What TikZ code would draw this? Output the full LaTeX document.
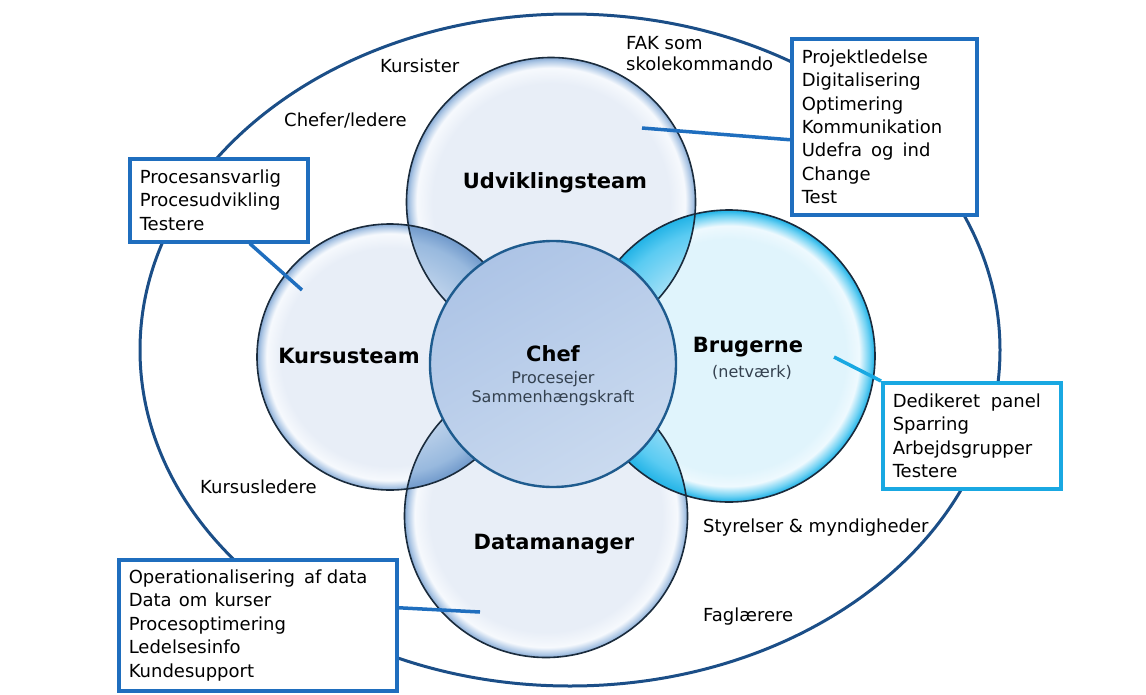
\documentclass[tikz,border=0pt]{standalone}
\usepackage{fontspec}
\setmainfont{DejaVu Sans}
\usetikzlibrary{calc}
\definecolor{ellblue}{HTML}{1B4E87}
\definecolor{boxblue}{HTML}{1F6EBE}
\definecolor{boxcyan}{HTML}{19A8E2}
\definecolor{ringdark}{HTML}{1A2B3C}
\definecolor{chefline}{HTML}{1E5B8E}
\definecolor{subgray}{HTML}{34414F}
\definecolor{bubA}{HTML}{E8EEF7}
\definecolor{bubB}{HTML}{F6F9FD}
\definecolor{bubC}{HTML}{B0C9E6}
\definecolor{bubD}{HTML}{86A9D3}
\definecolor{cyA}{HTML}{E0F4FC}
\definecolor{cyB}{HTML}{EEF9FE}
\definecolor{cyC}{HTML}{6ED1F3}
\definecolor{cyD}{HTML}{1BB0E6}
\definecolor{lbA}{HTML}{D0DFF0}
\definecolor{lbB}{HTML}{BDD2EB}
\definecolor{lbC}{HTML}{98B9DE}
\definecolor{lbD}{HTML}{7099CB}
\definecolor{lcA}{HTML}{C4ECFA}
\definecolor{lcB}{HTML}{A6E1F7}
\definecolor{lcC}{HTML}{5ACBF2}
\definecolor{lcD}{HTML}{22B3E6}
\definecolor{chefA}{HTML}{ADC4E6}
\definecolor{chefB}{HTML}{CADAEF}
\pgfdeclareradialshading{bubble}{\pgfpoint{0bp}{0bp}}{color(0bp)=(bubA); color(20.5bp)=(bubA); color(23.2bp)=(bubB); color(24.4bp)=(bubC); color(25bp)=(bubD); color(50bp)=(bubD)}
\pgfdeclareradialshading{bubblecyan}{\pgfpoint{0bp}{0bp}}{color(0bp)=(cyA); color(20bp)=(cyA); color(22.3bp)=(cyB); color(24bp)=(cyC); color(25bp)=(cyD); color(50bp)=(cyD)}
\pgfdeclareradialshading{lensblue}{\pgfpoint{0bp}{0bp}}{color(0bp)=(lbA); color(15bp)=(lbB); color(22bp)=(lbC); color(25bp)=(lbD); color(50bp)=(lbD)}
\pgfdeclareradialshading{lenscyan}{\pgfpoint{0bp}{0bp}}{color(0bp)=(lcA); color(15bp)=(lcB); color(22bp)=(lcC); color(25bp)=(lcD); color(50bp)=(lcD)}
\begin{document}
\begin{tikzpicture}[x=1pt,y=-1pt,
  plain/.style={font=\fontsize{18}{23.4}\selectfont, inner sep=0pt, anchor=base west},
  title/.style={font=\fontsize{21}{25}\selectfont\bfseries, inner sep=0pt, anchor=base},
  sub/.style={font=\fontsize{16}{19}\selectfont, text=subgray, inner sep=0pt, anchor=base},
  infobox/.style={draw=boxblue, line width=3.5pt, fill=white, font=\fontsize{18}{23.4}\selectfont, align=left, inner xsep=10pt, inner ysep=0pt, anchor=north west},
  link/.style={draw=boxblue, line width=3.5pt},
  ring/.style={draw=ringdark, line width=1.6pt},
]
\useasboundingbox (0,0) rectangle (1146,694);
% outer ellipse
\coordinate (cE) at (570,350);
\draw[draw=ellblue, line width=3pt] (cE) ellipse[x radius=430pt, y radius=336pt];
% circle centres
\coordinate (cU) at (551,202);
\coordinate (cK) at (390,357);
\coordinate (cB) at (729,356);
\coordinate (cD) at (546,516);
\coordinate (cC) at (553,364);
% bubbles
\shade[shading=bubble] (cU) circle[radius=144.5pt];
\shade[shading=bubble] (cK) circle[radius=133pt];
\shade[shading=bubblecyan] (cB) circle[radius=146pt];
\shade[shading=bubble] (cD) circle[radius=141.5pt];
% lenses
\begin{scope}
  \clip (cU) circle[radius=144.5pt];
  \shade[shading=lensblue] (cK) circle[radius=133pt];
\end{scope}
\begin{scope}
  \clip (cU) circle[radius=144.5pt];
  \shade[shading=lenscyan] (cB) circle[radius=146pt];
\end{scope}
\begin{scope}
  \clip (cD) circle[radius=141.5pt];
  \shade[shading=lensblue] (cK) circle[radius=133pt];
\end{scope}
\begin{scope}
  \clip (cD) circle[radius=141.5pt];
  \shade[shading=lenscyan] (cB) circle[radius=146pt];
\end{scope}
% outlines
\draw[ring] (cU) circle[radius=144.5pt];
\draw[ring] (cK) circle[radius=133pt];
\draw[ring] (cB) circle[radius=146pt];
\draw[ring] (cD) circle[radius=141.5pt];
% chef
\shade[top color=chefA, bottom color=chefB, shading angle=30] (cC) circle[radius=123pt];
\draw[draw=chefline, line width=2.4pt] (cC) circle[radius=123pt];
% titles
\node[title] (tU) at (555,188) {Udviklingsteam};
\node[title] (tK) at (349,363) {Kursusteam};
\node[title] (tB) at (748,352) {Brugerne};
\node[sub] (sB) at (752,377) {(netværk)};
\node[title] (tD) at (554,549) {Datamanager};
\node[title] (tC) at (553,361) {Chef};
\node[sub] (sC1) at (553,383) {Procesejer};
\node[sub] (sC2) at (553,402) {Sammenhængskraft};
% outer labels
\node[plain] (lKursister) at (380,72) {Kursister};
\node[plain] (lChefer) at (284,126) {Chefer/ledere};
\node[plain] (lFAK) at (626,49) {FAK som};
\node[plain] (lSkole) at (626,70) {skolekommando};
\node[plain] (lKursusledere) at (200,493) {Kursusledere};
\node[plain] (lStyrelser) at (703,532) {Styrelser \& myndigheder};
\node[plain] (lFag) at (703,621) {Faglærere};
% boxes
\node[infobox, minimum width=178pt, minimum height=83pt, text width=158pt] (b1) at (128,157)
  {Procesansvarlig\\Procesudvikling\\Testere};
\node[infobox, minimum width=185pt, minimum height=176pt, text width=165pt] (b2) at (790,37)
  {Projektledelse\\Digitalisering\\Optimering\\Kommunikation\\Udefra\hspace{0.5em}og\hspace{0.5em}ind\\Change\\Test};
\node[infobox, draw=boxcyan, minimum width=178pt, minimum height=106pt, text width=158pt] (b3) at (881,381)
  {Dedikeret\hspace{0.6em}panel\\Sparring\\Arbejdsgrupper\\Testere};
\node[infobox, minimum width=278pt, minimum height=131pt, text width=258pt] (b4) at (117,558)
  {Operationalisering\hspace{0.5em}af\hspace{0.3em}data\\Data\hspace{0.4em}om\hspace{0.4em}kurser\\Procesoptimering\\Ledelsesinfo\\Kundesupport};
% connectors
\coordinate (pK) at (302,290);
\coordinate (pU) at (642,128);
\coordinate (pB) at (834,357);
\coordinate (pD) at (480,612);
\draw[link] ([xshift=31pt]b1.south) -- (pK);
\draw[link] ([yshift=-13pt]b2.west) -- (pU);
\draw[link, draw=boxcyan] (b3.north west) -- (pB);
\draw[link] ([yshift=17.5pt]b4.east) -- (pD);
\end{tikzpicture}
\end{document}
